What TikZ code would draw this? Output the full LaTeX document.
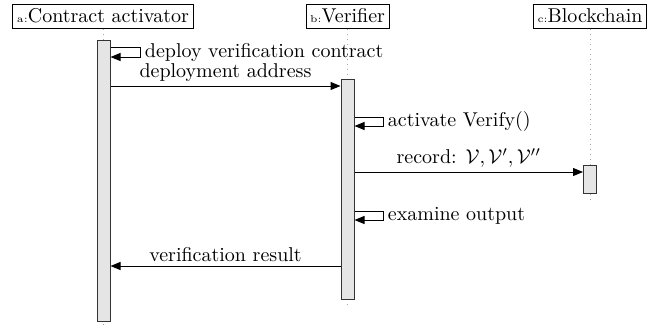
\documentclass[tikz,border=0pt]{standalone}
\usetikzlibrary{arrows.meta,calc}
\begin{document}
\begin{tikzpicture}[x=0.5pt,y=-0.5pt,
  inst/.style={draw,line width=0.5pt,inner xsep=2pt,inner ysep=1pt,minimum height=12pt,anchor=center},
  life/.style={dotted,gray!70,line width=0.5pt},
  bar/.style={draw=black!80,fill=black!10,line width=0.5pt,minimum width=6.5pt,inner sep=0pt},
  msg/.style={line width=0.5pt,-{Triangle[length=5pt,width=4pt]}},
  lbl/.style={font=\normalsize,inner sep=2pt}]
\useasboundingbox (0,0) rectangle (657,327);
% instances
\node[inst] (ia) at (103,16) {{\tiny a:}Contract activator};
\node[inst] (ib) at (347.5,16) {{\tiny b:}Verifier};
\node[inst] (ic) at (590,16) {{\tiny c:}Blockchain};
% lifeline ends
\coordinate (ea) at (103.5,328);
\coordinate (eb) at (347.5,306);
\coordinate (ec) at (590,200);
\draw[life] (ia.south -| ea) -- (ea);
\draw[life] (ib.south -| eb) -- (eb);
\draw[life] (ic.south -| ec) -- (ec);
% activation bars
\node[bar,minimum height=140.5pt] (ba) at (103.5,180.5) {};
\node[bar,minimum height=110pt] (bb) at (347.5,189) {};
\node[bar,minimum height=14pt] (bc) at (590,179) {};
% self call a
\draw[msg] (ba.east |- 0,47) -- ++(15pt,0) coordinate (sa1) -- (sa1 |- 0,57) coordinate (sa2) -- (ba.east |- 0,57);
\node[lbl,anchor=west] (la1) at ($(sa1)!0.5!(sa2)$) {deploy verification contract};
% message deployment address
\draw[msg] (ba.east |- 0,86) -- (bb.west |- 0,86) node[lbl,midway,above] (lm1) {deployment address};
% self call b activate
\draw[msg] (bb.east |- 0,117) -- ++(14.5pt,0) coordinate (sb1) -- (sb1 |- 0,126) coordinate (sb2) -- (bb.east |- 0,126);
\node[lbl,anchor=west] (lb1) at ($(sb1)!0.5!(sb2)$) {activate Verify()};
% record
\draw[msg] (bb.east |- 0,172) -- (bc.west |- 0,172) node[lbl,midway,above] (lm2) {record: $\mathcal{V},\mathcal{V}',\mathcal{V}''$};
% self call b examine
\draw[msg] (bb.east |- 0,211) -- ++(14.5pt,0) coordinate (sb3) -- (sb3 |- 0,220) coordinate (sb4) -- (bb.east |- 0,220);
\node[lbl,anchor=west] (lb2) at ($(sb3)!0.5!(sb4)$) {examine output};
% verification result
\draw[msg] (bb.west |- 0,266) -- (ba.east |- 0,266) node[lbl,midway,above] (lm3) {verification result};
\end{tikzpicture}
\end{document}
